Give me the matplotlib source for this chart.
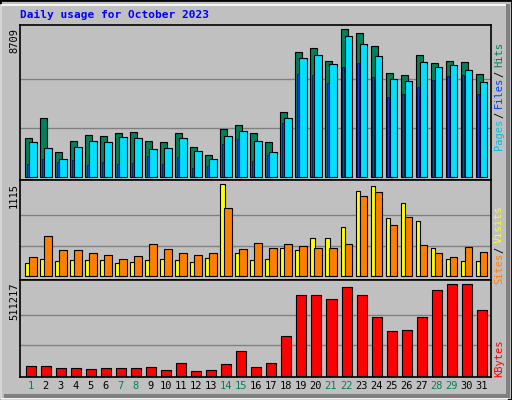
import matplotlib
matplotlib.use("Agg")
import matplotlib.pyplot as plt
from matplotlib.patches import Rectangle

days = list(range(1, 32))
weekend = [1, 7, 8, 14, 15, 21, 22, 28, 29]
hits = [2280, 3460, 1455, 2100, 2460, 2400, 2575, 2635, 2100, 2045, 2575, 1750, 1280, 2810, 3050, 2575,
        2045, 3815, 7350, 7590, 6820, 8709, 8470, 7705, 6115, 5995, 7175, 6700, 6820, 6760, 6055]
files = [2045, 1690, 1045, 1750, 2105, 2045, 2340, 2280, 1635, 1690, 2280, 1515, 1045, 2400, 2695, 2105,
         1455, 3460, 7000, 7175, 6645, 8295, 7825, 7115, 5760, 5645, 6765, 6470, 6585, 6290, 5585]
pages = [750, 1045, 865, 985, 690, 865, 750, 810, 1220, 750, 1160, 515, 630, 1930, 2220, 925,
         1280, 3165, 6055, 5995, 5525, 6470, 6705, 5880, 4700, 4875, 5290, 5700, 5940, 5995, 4875]
visits = [158, 206, 182, 194, 194, 194, 158, 170, 194, 206, 194, 170, 218, 1115, 279, 194,
          206, 339, 315, 461, 461, 594, 1030, 1091, 703, 885, 667, 339, 206, 182, 182]
sites = [230, 485, 315, 315, 279, 255, 206, 242, 388, 327, 279, 255, 279, 824, 327, 400,
         339, 388, 364, 339, 339, 388, 970, 1018, 618, 715, 376, 279, 230, 352, 291]
kbytes = [52100, 52100, 40900, 40900, 35300, 40900, 40900, 40900, 46500, 29700, 68900, 24100, 29700,
          63300, 136100, 46500, 68900, 220100, 449600, 449600, 427200, 494400, 449600, 326400,
          248000, 253600, 326400, 477600, 511217, 511217, 365600]
day_labels = [str(d) for d in days]

W, H = 512, 400
fig = plt.figure(figsize=(W / 100, H / 100), dpi=100)
fig.patch.set_facecolor("#C0C0C0")

def fr(x0, y0, x1, y1):
    return [x0 / W, 1 - y1 / H, (x1 - x0) / W, (y1 - y0) / H]

# outer 3D frame
fig.patches.append(Rectangle((0, 0), 1, 1, transform=fig.transFigure, fill=False, ec="black", lw=2))
fig.patches.append(Rectangle((1 / W, 1 / H), (W - 6) / W, (H - 6) / H, transform=fig.transFigure,
                             fill=False, ec="white", lw=1.2))
fig.patches.append(Rectangle((W - 6) / W, 0) if False else Rectangle(((W - 6) / W, 2 / H), 4 / W, (H - 6) / H,
                             transform=fig.transFigure, fc="#808080", ec="none"))
fig.patches.append(Rectangle((4 / W, 2 / H), (W - 8) / W, 4 / H, transform=fig.transFigure, fc="#808080", ec="none"))

fig.text(20 / W, 1 - 15 / H, "Daily usage for October 2023", color="#0000FF", family="DejaVu Sans Mono",
         weight="bold", fontsize=8, va="center", ha="left")

xl = (1 - 5.3 / 15, 1 + 465.4 / 15)
u = 1 / 15

def setup(ax, vmax, hpx, pad_bot, total_px):
    ax.set_facecolor("#C0C0C0")
    sc = vmax / hpx
    ax.set_ylim(-pad_bot * sc, (total_px - pad_bot) * sc)
    ax.set_xlim(*xl)
    for g in (vmax / 3, 2 * vmax / 3):
        ax.axhline(g, color="#808080", lw=1, zorder=0)
    ax.set_xticks([]); ax.set_yticks([])
    for s in ax.spines.values():
        s.set_color("black"); s.set_linewidth(1.2)

# top panel
ax1 = fig.add_axes(fr(20, 25, 491, 180))
setup(ax1, 8709, 147.7, 3, 155)
x = [d for d in days]
ax1.bar([d for d in x], hits, width=7 * u, align="edge", color="#00805C", ec="black", lw=0.8, zorder=2)
ax1.bar([d + 4 * u for d in x], files, width=7.4 * u, align="edge", color="#00E0FF", ec="black", lw=0.8, zorder=3)
ax1.bar([d + 1.7 * u for d in x], pages, width=2 * u, align="edge", color="#0040FF", ec="black", lw=0.4, zorder=4)

# middle panel
ax2 = fig.add_axes(fr(20, 180, 491, 279.5))
setup(ax2, 1115, 92, 3.2, 99.5)
ax2.bar([d for d in x], visits, width=4.5 * u, align="edge", color="#FFFF00", ec="black", lw=0.8, zorder=2)
ax2.bar([d + 4 * u for d in x], sites, width=7.3 * u, align="edge", color="#FF8000", ec="black", lw=0.8, zorder=3)

# bottom panel
ax3 = fig.add_axes(fr(20, 279.5, 491, 377))
setup(ax3, 511217, 91.3, 1.3, 97.5)
ax3.bar([d + 1 * u for d in x], kbytes, width=10 * u, align="edge", color="#FF0000", ec="black", lw=0.8, zorder=2)
for d, lab in zip(days, day_labels):
    ax3.text(d + 5.5 * u, -0.09, lab, transform=ax3.get_xaxis_transform(), ha="center", va="center",
             family="DejaVu Sans Mono", fontsize=7.5, color="#00805C" if d in weekend else "black")

mono = dict(family="DejaVu Sans Mono", fontsize=7.5, rotation=90, ha="center")
fig.text(14 / W, 1 - 28 / H, "8709", va="top", **mono)
fig.text(14 / W, 1 - 183 / H, "1115", va="top", **mono)
fig.text(14 / W, 1 - 283 / H, "511217", va="top", **mono)

def rlabel(y_top, parts):
    # parts listed from bottom to top
    y = y_top
    t = fig.text(499 / W, 1 - y / H, "", **mono)
    return t

from matplotlib.offsetbox import TextArea, HPacker, AnchoredOffsetbox, VPacker
def stacked(parts, y_center):
    boxes = [TextArea(s, textprops=dict(color=c, family="DejaVu Sans Mono", fontsize=7.5, rotation=90))
             for s, c in reversed(parts)]
    pk = VPacker(children=boxes, pad=0, sep=0, align="center")
    ab = AnchoredOffsetbox(loc="center", child=pk, frameon=False, bbox_to_anchor=(499 / W, 1 - y_center / H),
                           bbox_transform=fig.transFigure, pad=0, borderpad=0)
    fig.add_artist(ab)

stacked([("Pages", "#00C0E0"), ("/", "black"), ("Files", "#0040FF"), ("/", "black"), ("Hits", "#00805C")], 96)
stacked([("Sites", "#FF8000"), ("/", "black"), ("Visits", "#FFFF00")], 245)
stacked([("KBytes", "#FF0000")], 358)

fig.savefig("out.png", dpi=100, facecolor=fig.get_facecolor())
